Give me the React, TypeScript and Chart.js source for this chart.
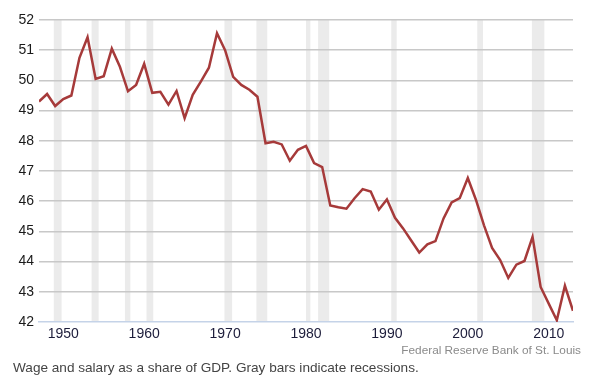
import React, { useEffect, useRef } from "react";
import { Chart, registerables } from "chart.js";

Chart.register(...registerables);

const years: number[] = [
  1947, 1948, 1949, 1950, 1951, 1952, 1953, 1954, 1955, 1956, 1957, 1958, 1959,
  1960, 1961, 1962, 1963, 1964, 1965, 1966, 1967, 1968, 1969, 1970, 1971, 1972,
  1973, 1974, 1975, 1976, 1977, 1978, 1979, 1980, 1981, 1982, 1983, 1984, 1985,
  1986, 1987, 1988, 1989, 1990, 1991, 1992, 1993, 1994, 1995, 1996, 1997, 1998,
  1999, 2000, 2001, 2002, 2003, 2004, 2005, 2006, 2007, 2008, 2009, 2010, 2011,
  2012, 2013,
];

const wageShare: number[] = [
  49.3, 49.55, 49.15, 49.38, 49.5, 50.75, 51.43, 50.05, 50.14, 51.05, 50.45,
  49.64, 49.85, 50.55, 49.59, 49.62, 49.2, 49.65, 48.75, 49.52, 49.96, 50.42,
  51.56, 51.0, 50.12, 49.85, 49.69, 49.46, 47.92, 47.97, 47.88, 47.34, 47.7,
  47.83, 47.26, 47.13, 45.86, 45.8, 45.75, 46.1, 46.4, 46.32, 45.72, 46.06,
  45.45, 45.1, 44.7, 44.3, 44.57, 44.68, 45.43, 45.96, 46.1, 46.77, 46.05,
  45.2, 44.45, 44.05, 43.46, 43.9, 44.02, 44.82, 43.16, 42.61, 42.06, 43.2,
  42.37,
];

const recessionStarts: number[] = [
  1948.83, 1953.5, 1957.62, 1960.29, 1969.92, 1973.87, 1980.0, 1981.5, 1990.54,
  2001.17, 2007.92,
];
const recessionEnds: number[] = [
  1949.79, 1954.37, 1958.29, 1961.12, 1970.87, 1975.21, 1980.54, 1982.87,
  1991.21, 2001.87, 2009.46,
];

const xTicks: number[] = [1950, 1960, 1970, 1980, 1990, 2000, 2010];

const FONT = "'Liberation Sans', Arial, Helvetica, sans-serif";

const recessionPlugin = {
  id: "recessions",
  beforeDraw(chart: any) {
    const { ctx, chartArea, scales } = chart;
    const xs = scales.x;
    ctx.save();
    ctx.fillStyle = "#ebebeb";
    for (let i = 0; i < recessionStarts.length; i++) {
      const x0 = xs.getPixelForValue(recessionStarts[i]);
      const x1 = xs.getPixelForValue(recessionEnds[i]);
      ctx.fillRect(x0, chartArea.top, x1 - x0, chartArea.bottom - chartArea.top);
    }
    ctx.restore();
  },
};

export default function App() {
  const ref = useRef<HTMLCanvasElement | null>(null);

  useEffect(() => {
    if (!ref.current) return;
    const chart = new Chart(ref.current, {
      type: "line",
      data: {
        datasets: [
          {
            data: years.map((y, i) => ({ x: y, y: wageShare[i] })),
            borderColor: "#a63a3a",
            borderWidth: 2.5,
            pointRadius: 0,
            tension: 0,
            fill: false,
          },
        ],
      },
      options: {
        animation: false,
        responsive: false,
        maintainAspectRatio: false,
        layout: { padding: { left: 0, right: 27, top: 20, bottom: 32 } },
        plugins: {
          legend: { display: false },
          tooltip: { enabled: false },
        },
        scales: {
          x: {
            type: "linear",
            min: 1947,
            max: 2013,
            afterBuildTicks(scale: any) {
              scale.ticks = xTicks.map((v) => ({ value: v }));
            },
            afterFit(scale: any) {
              scale.height = 30;
            },
            grid: { display: false, drawTicks: false },
            border: { display: true, color: "#c5d3e8", width: 1.5 },
            ticks: {
              padding: 4,
              maxRotation: 0,
              autoSkip: false,
              color: "#1c1c3a",
              font: { family: FONT, size: 14 },
              callback: (v: any) => String(v),
            },
          },
          y: {
            min: 42,
            max: 52,
            afterFit(scale: any) {
              scale.width = 39;
            },
            grid: {
              drawTicks: false,
              lineWidth: 1.5,
              color: (c: any) => (c.tick && c.tick.value === 42 ? "rgba(0,0,0,0)" : "#c8c8c8"),
            },
            border: { display: false },
            ticks: {
              stepSize: 1,
              padding: 5,
              color: "#1a1a1a",
              font: { family: FONT, size: 14 },
            },
          },
        },
      },
      plugins: [recessionPlugin],
    });
    return () => chart.destroy();
  }, []);

  return (
    <div style={{ position: "fixed", left: 0, top: 0, width: 600, height: 384, background: "#fff" }}>
      <canvas ref={ref} width={600} height={384} style={{ display: "block" }} />
      <div
        style={{
          position: "absolute",
          right: 19,
          top: 342,
          fontFamily: FONT,
          fontSize: 11.8,
          lineHeight: "16px",
          color: "#8a8a8a",
          whiteSpace: "nowrap",
        }}
      >
        Federal Reserve Bank of St. Louis
      </div>
      <div
        style={{
          position: "absolute",
          left: 13,
          top: 360,
          fontFamily: FONT,
          fontSize: 13.6,
          lineHeight: "16px",
          color: "#444",
          whiteSpace: "nowrap",
        }}
      >
        Wage and salary as a share of GDP. Gray bars indicate recessions.
      </div>
    </div>
  );
}
